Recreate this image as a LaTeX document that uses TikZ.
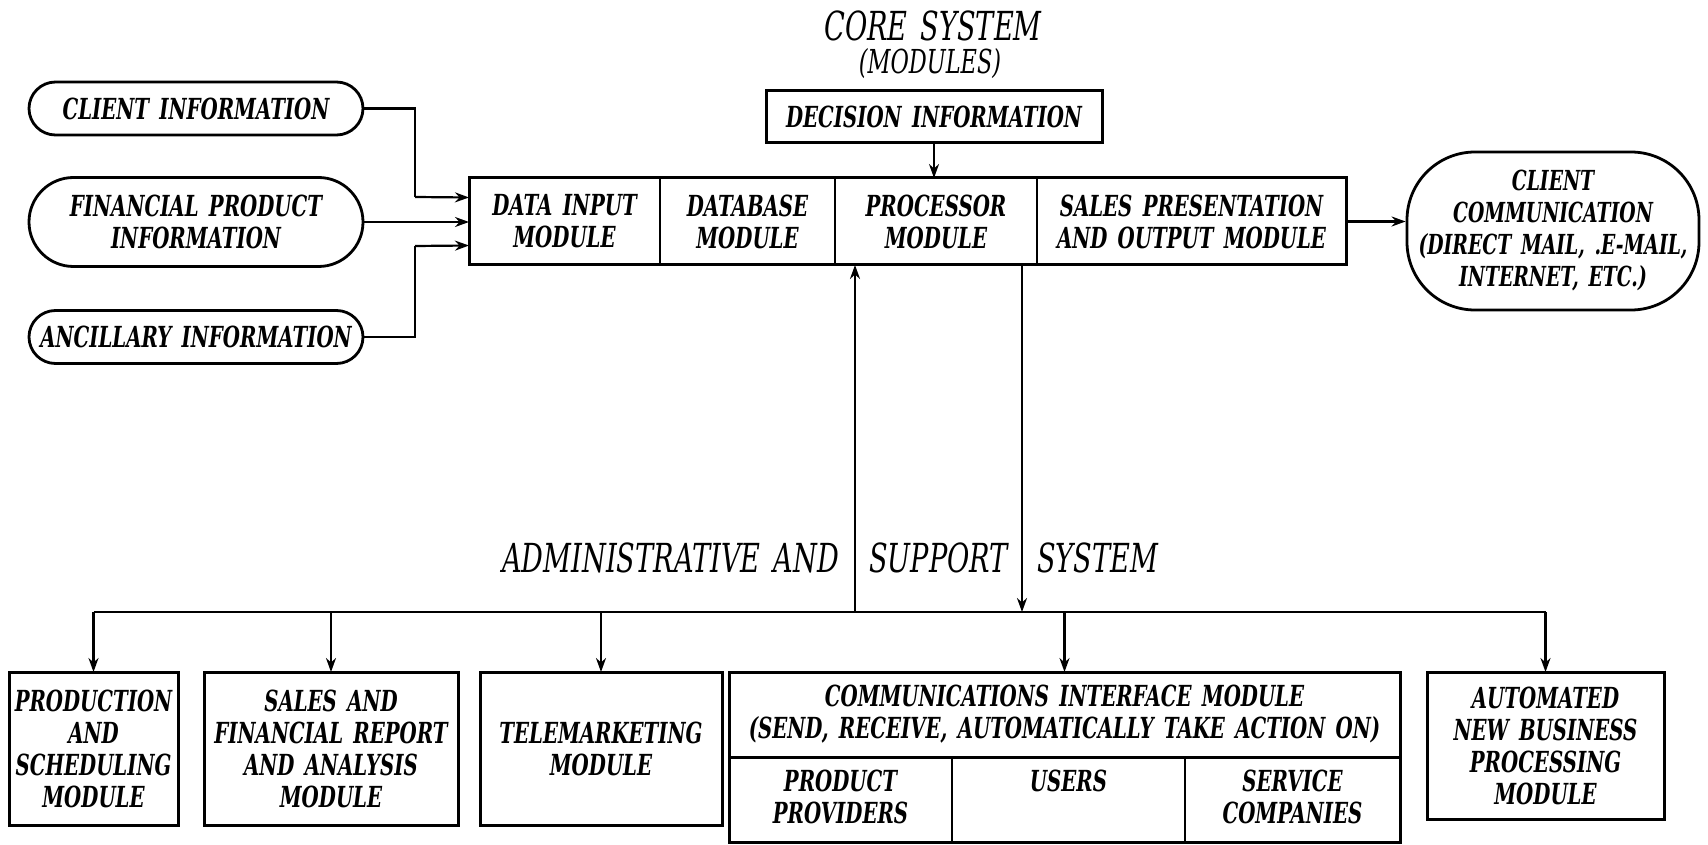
\documentclass[tikz,border=0pt]{standalone}
\usepackage{fontspec}
\setmainfont{DejaVu Serif}[FakeStretch=0.68, WordSpace=1.5]
\usetikzlibrary{positioning,arrows.meta,shapes.misc}

\begin{document}
\begin{tikzpicture}[
    x=0.5pt, y=-0.5pt,
    font=\fontsize{14.5}{16}\selectfont\bfseries\itshape,
    l/.style={
        line width=1.1pt,
        -{Stealth[length=7pt,width=5pt]}
    },
    ln/.style={line width=1.1pt},
    pill/.style={
        rounded rectangle, draw, line width=1.4pt,
        minimum width=171pt, align=center, inner sep=2pt
    },
    cell/.style={
        draw, line width=0.8pt, outer sep=0pt,
        minimum height=43.5pt, inner sep=2pt, align=center
    },
    box/.style={
        draw, line width=1.5pt, outer sep=0pt,
        inner sep=2pt, align=center
    },
    frame/.style={line width=1.5pt},
    title/.style={font=\fontsize{20}{22}\selectfont\mdseries\itshape}
]
\useasboundingbox (0,0) rectangle (1708,845);

% core system
\node [title] (core) at (933,26) {CORE SYSTEM};
\node [font=\fontsize{16.5}{18}\selectfont\mdseries\itshape] (mods) at (930,64) {(MODULES)};
\node [box, minimum width=168pt, minimum height=26pt] (dec) at (934,117) {DECISION INFORMATION};

\node [cell, minimum width=95.5pt] (data) at (564.5,221.5) {DATA INPUT\\MODULE};
\node [cell, minimum width=87.5pt, right=0pt of data] (dbase) {DATABASE\\MODULE};
\node [cell, minimum width=101pt, right=0pt of dbase] (proc) {PROCESSOR\\MODULE};
\node [cell, minimum width=154.5pt, right=0pt of proc] (sales) {SALES PRESENTATION\\AND OUTPUT MODULE};
\draw [frame] (data.north west) rectangle (sales.south east);

\draw [l] (dec.south) -- (dec.south |- proc.north);

% inputs
\node [pill, minimum height=26.5pt] (cli) at (196,108.5) {CLIENT INFORMATION};
\node [pill, minimum height=44.5pt] (fin) at (196,222) {FINANCIAL PRODUCT\\INFORMATION};
\node [pill, minimum height=26.5pt] (anc) at (196,337) {ANCILLARY INFORMATION};

\draw [ln] (cli.east) -| (415,197) coordinate (cliIn);
\draw [l] (cliIn) -- ([yshift=12pt]data.west);
\draw [l] (fin.east) -- (fin.east -| data.west);
\draw [ln] (anc.east) -| (415,246) coordinate (ancIn);
\draw [l] (ancIn) -- ([yshift=-12pt]data.west);

% output
\node [draw, line width=1.4pt, rounded corners=34pt, minimum width=146pt, minimum height=79pt,
       align=center, inner sep=2pt, font=\fontsize{13.8}{16}\selectfont\bfseries\itshape] (ccom) at (1553,231)
      {CLIENT\\COMMUNICATION\\(DIRECT MAIL, .E-MAIL,\\INTERNET, ETC.)};
\draw [l] (sales.east) -- (sales.east -| ccom.west);

% administrative and support system
\node [title, anchor=east] (adm) at (846,558) {ADMINISTRATIVE AND};
\node [title] (sup) at (938.5,558) {SUPPORT};
\node [title, anchor=west] (sys) at (1030,558) {SYSTEM};

\node [box, minimum width=84.5pt, minimum height=76.5pt] (prod) at (93.5,748.5)
      {PRODUCTION\\AND\\SCHEDULING\\MODULE};
\node [box, minimum width=127pt, minimum height=76.5pt] (sfr) at (331,748.5)
      {SALES AND\\FINANCIAL REPORT\\AND ANALYSIS\\MODULE};
\node [box, minimum width=121pt, minimum height=76.5pt] (tele) at (601,748.5)
      {TELEMARKETING\\MODULE};
\node [box, minimum width=335.5pt, minimum height=42.5pt] (comm) at (1064.5,714.5)
      {COMMUNICATIONS INTERFACE MODULE\\(SEND, RECEIVE, AUTOMATICALLY TAKE ACTION ON)};
\node [cell, minimum width=111.5pt, minimum height=42.5pt, below right=0pt and 0pt of comm.south west] (pp) {};
\node [cell, minimum width=116.5pt, minimum height=42.5pt, right=0pt of pp] (usr) {};
\node [cell, minimum width=107.5pt, minimum height=42.5pt, right=0pt of usr] (svc) {};
\draw [frame] (comm.north west) rectangle (svc.south east);
\node [below=3pt of pp.north, align=center] (ppT) {PRODUCT\\PROVIDERS};
\node [below=3pt of usr.north, align=center] (usrT) {USERS};
\node [below=3pt of svc.north, align=center] (svcT) {SERVICE\\COMPANIES};
\node [box, minimum width=118.5pt, minimum height=73.5pt] (auto) at (1545.5,745.5)
      {AUTOMATED\\NEW BUSINESS\\PROCESSING\\MODULE};

\coordinate (bus) at (0,612);
\coordinate (up) at (855,612);
\coordinate (dn) at (1022,612);
\draw [ln] (prod.north |- bus) -- (auto.north |- bus);
\foreach \m in {prod,sfr,tele,comm,auto}
    \draw [l] (\m.north |- bus) -- (\m.north);
\draw [l] (up) -- (up |- proc.south);
\draw [l] (dn |- proc.south) -- (dn);

\end{tikzpicture}
\end{document}
